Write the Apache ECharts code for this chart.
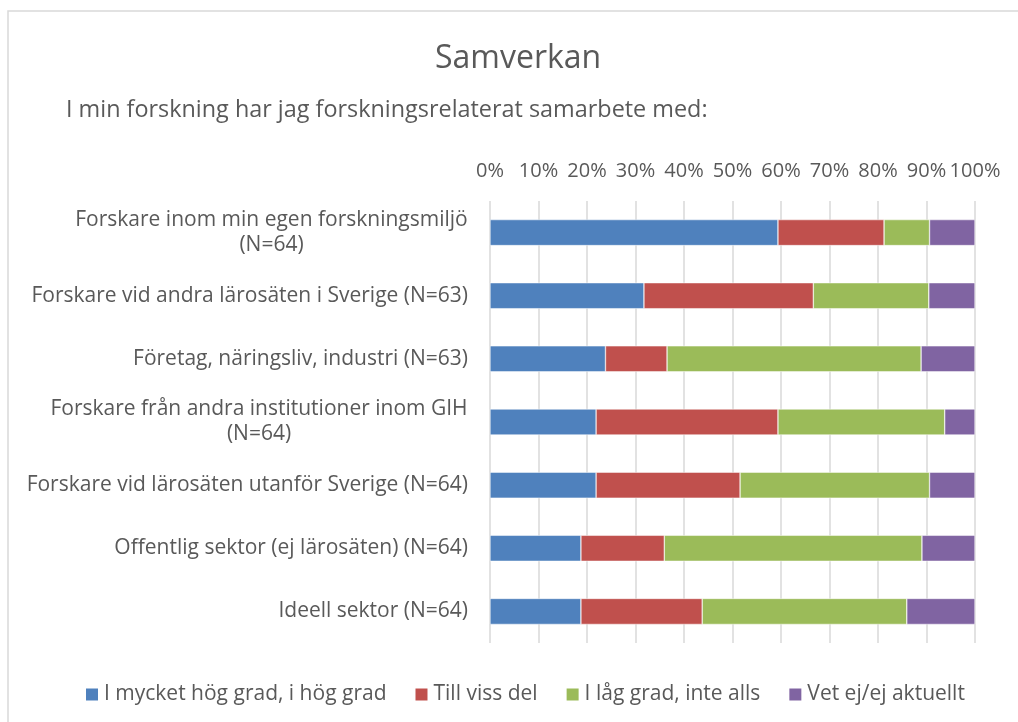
<!DOCTYPE html>
<html>
<head>
<meta charset="utf-8">
<script src="https://cdn.jsdelivr.net/npm/echarts@6/dist/echarts.min.js"></script>
<style>
  html, body { margin: 0; padding: 0; background: #fff; }
  #chart { width: 1018px; height: 722px; }
</style>
</head>
<body>
<div id="chart"></div>
<script>
// categories, top to bottom
const categories = [
  'Forskare inom min egen forskningsmiljö (N=64)',
  'Forskare vid andra lärosäten i Sverige (N=63)',
  'Företag, näringsliv, industri (N=63)',
  'Forskare från andra institutioner inom GIH (N=64)',
  'Forskare vid lärosäten utanför Sverige (N=64)',
  'Offentlig sektor (ej lärosäten) (N=64)',
  'Ideell sektor (N=64)'
]
const totals = [64, 63, 63, 64, 64, 64, 64]

// number of answers per category
const hogGrad   = [38, 20, 15, 14, 14, 12, 12]
const vissDel   = [14, 22,  8, 24, 19, 11, 16]
const lagGrad   = [ 6, 15, 33, 22, 25, 34, 27]
const vetEj     = [ 6,  6,  7,  4,  6,  7,  9]

const seriesNames = ['I mycket hög grad, i hög grad', 'Till viss del', 'I låg grad, inte alls', 'Vet ej/ej aktuellt']
const colors = ['#4f81bd', '#c0504d', '#9bbb59', '#8064a2']

const textColor = '#595959'
const font = 'Open Sans'
const labelSize = 21
const labelMaxWidth = 456

function pct(arr) {
  return arr.map((v, i) => v / totals[i] * 100)
}

// measure text so long labels can wrap like Excel does (lines centred)
const ctx = document.createElement('canvas').getContext('2d')
ctx.font = labelSize + 'px "' + font + '"'
function textWidth(s) { return ctx.measureText(s).width }

function wrapLabel(value) {
  if (textWidth(value) <= labelMaxWidth) return value
  const words = value.split(' ')
  const lines = []
  let line = ''
  words.forEach(w => {
    const next = line ? line + ' ' + w : w
    if (textWidth(next) > labelMaxWidth && line) {
      lines.push(line)
      line = w
    } else {
      line = next
    }
  })
  lines.push(line)
  const w = Math.ceil(Math.max(...lines.map(textWidth)))
  return lines.map(l => '{c' + w + '|' + l + '}').join('\n')
}

const rich = {}
categories.forEach(c => {
  const out = wrapLabel(c)
  const m = out.match(/^\{c(\d+)\|/)
  if (m) {
    rich['c' + m[1]] = {
      width: +m[1], align: 'center', fontSize: labelSize,
      color: textColor, fontFamily: font, lineHeight: 25
    }
  }
})

const chart = echarts.init(document.getElementById('chart'))

const option = {
  animation: false,
  color: colors,
  textStyle: { fontFamily: font },
  title: [
    {
      text: 'Samverkan',
      left: 430,
      top: 38,
      textStyle: { fontSize: 32, fontWeight: 'normal', color: textColor, fontFamily: font }
    },
    {
      text: 'I min forskning har jag forskningsrelaterat samarbete med:',
      left: 61,
      top: 94,
      textStyle: { fontSize: 23.4, fontWeight: 'normal', color: textColor, fontFamily: font }
    }
  ],
  graphic: [
    {
      type: 'rect',
      shape: { x: 8, y: 11, width: 1100, height: 800 },
      style: { fill: 'none', stroke: '#d9d9d9', lineWidth: 1.5 },
      silent: true
    }
  ],
  legend: {
    data: seriesNames,
    top: 679,
    left: 79,
    icon: 'rect',
    itemWidth: 14,
    itemHeight: 14,
    itemGap: 27,
    textStyle: { fontSize: 21, color: textColor, fontFamily: font }
  },
  grid: {
    left: 490,
    right: 43,
    top: 201,
    bottom: 79,
    containLabel: false
  },
  xAxis: {
    type: 'value',
    position: 'top',
    min: 0,
    max: 100,
    interval: 10,
    axisLine: { show: false },
    axisTick: { show: false },
    axisLabel: {
      formatter: '{value}%',
      fontSize: 20,
      color: textColor,
      margin: 20,
      fontFamily: font
    },
    splitLine: { lineStyle: { color: '#d9d9d9', width: 1.5 } }
  },
  yAxis: {
    type: 'category',
    inverse: true,
    data: categories,
    axisLine: { show: false },
    axisTick: { show: false },
    axisLabel: {
      fontSize: labelSize,
      color: textColor,
      margin: 22,
      align: 'right',
      lineHeight: 25,
      fontFamily: font,
      formatter: wrapLabel,
      rich: rich
    }
  },
  series: [hogGrad, vissDel, lagGrad, vetEj].map((arr, i) => ({
    name: seriesNames[i],
    type: 'bar',
    stack: 'total',
    barWidth: 26,
    data: pct(arr),
    itemStyle: { color: colors[i], borderColor: '#ffffff', borderWidth: 0.5 }
  }))
}

chart.setOption(option)
</script>
</body>
</html>
